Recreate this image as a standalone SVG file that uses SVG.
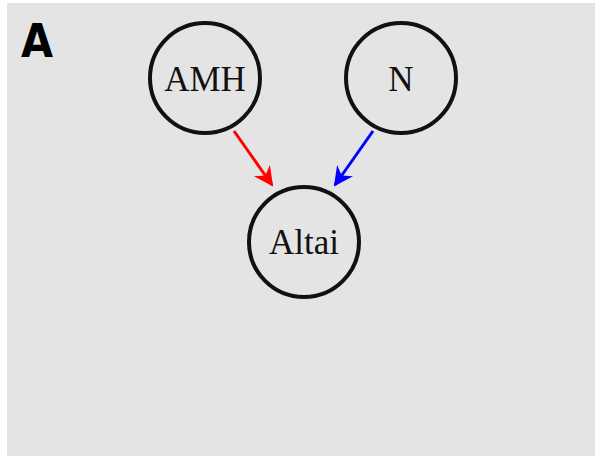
<svg xmlns="http://www.w3.org/2000/svg" width="595" height="456" viewBox="0 0 595 456">
<style>
.node{fill:none;stroke:#111;stroke-width:4}
.lbl{font-family:"Liberation Serif","Times New Roman",serif;font-size:35px;fill:#111;text-anchor:middle}
</style>
<defs>
<marker id="ar" viewBox="0 0 10 10" refX="9" refY="5" markerWidth="6.5" markerHeight="6.5" orient="auto" markerUnits="strokeWidth"><path d="M0,0 L10,5 L0,10 L3,5 z" fill="#f00"/></marker>
<marker id="ab" viewBox="0 0 10 10" refX="9" refY="5" markerWidth="6.5" markerHeight="6.5" orient="auto" markerUnits="strokeWidth"><path d="M0,0 L10,5 L0,10 L3,5 z" fill="#00f"/></marker>
</defs>
<rect x="0" y="0" width="595" height="456" fill="#fff"/>
<rect x="7" y="3" width="588" height="453" fill="#e4e4e4"/>
<text x="21" y="57" font-family="DejaVu Sans Condensed,DejaVu Sans,sans-serif" font-weight="bold" font-size="46" fill="#000">A</text>
<g id="connectors">
<line x1="234" y1="131" x2="272" y2="185" stroke="#f00" stroke-width="3" marker-end="url(#ar)"/>
<line x1="373" y1="131" x2="335" y2="185" stroke="#00f" stroke-width="3" marker-end="url(#ab)"/>
</g>
<g id="AMH"><circle class="node" cx="205" cy="78" r="55"/><text class="lbl" x="205" y="91">AMH</text></g>
<g id="N"><circle class="node" cx="401" cy="78" r="55"/><text class="lbl" x="401" y="91">N</text></g>
<g id="Altai"><circle class="node" cx="304" cy="242" r="55"/><text class="lbl" x="304" y="254">Altai</text></g>
</svg>
